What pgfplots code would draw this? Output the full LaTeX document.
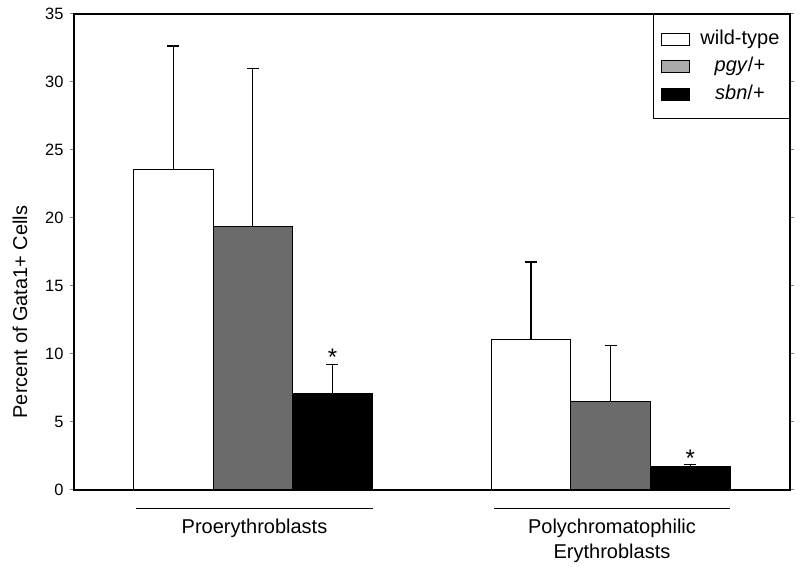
\documentclass[border=0pt]{standalone}
\usepackage{fontspec}
\setmainfont{Liberation Sans}
\usepackage{pgfplots}
\pgfplotsset{compat=1.18}
\definecolor{bargray}{HTML}{6B6B6B}
\definecolor{leggray}{HTML}{AAAAAA}
\begin{document}
\begin{tikzpicture}
\path[use as bounding box] (-37pt,-38.5pt) rectangle (363pt,245pt);
\begin{axis}[
  scale only axis, width=358pt, height=238pt,
  xmin=0, xmax=716, ymin=0, ymax=35,
  ytick={0,5,...,35},
  xtick={180.5,538},
  xticklabels={Proerythroblasts, {Polychromatophilic\\Erythroblasts}},
  xticklabel style={align=center, font=\fontsize{10}{12.5}\selectfont, yshift=-9pt},
  x tick style={draw=none},
  y tick style={gray, line width=0.5pt},
  tick align=outside, major tick length=1.75pt,
  yticklabel style={font=\fontsize{8.2}{9.8}\selectfont},
  /pgf/number format/assume math mode=true,
  ylabel={Percent of Gata1+ Cells},
  ylabel style={at={(axis description cs:-0.0754,0.374)}, anchor=center, font=\fontsize{10}{12}\selectfont},
  axis line style={line width=0.6pt},
  clip=false,
  ybar, bar width=79.5, bar shift=0pt,
  legend style={at={(1,1)}, anchor=north east, draw=black, line width=0.6pt,
    font=\fontsize{10}{12}\selectfont, inner ysep=6.6pt, inner xsep=4pt,
    row sep=2.45pt, column sep=4pt, cells={anchor=center},
    nodes={inner sep=1pt, text height=7.3pt, text depth=2pt}},
  legend cell align=center,
]
\addplot[forget plot, fill=white, draw=black, line width=0.5pt,
  error bars/.cd, y dir=plus, y explicit,
  error bar style={line width=0.6pt, black},
  error mark options={mark size=3pt, line width=0.6pt, black, rotate=90}]
  coordinates {(99.5,23.6) +- (0,9.05) (456.9,11.1) +- (0,5.66)};
\addplot[forget plot, fill=bargray, draw=black, line width=0.5pt,
  error bars/.cd, y dir=plus, y explicit,
  error bar style={line width=0.6pt, black},
  error mark options={mark size=3pt, line width=0.6pt, black, rotate=90}]
  coordinates {(178.8,19.4) +- (0,11.6) (536.5,6.54) +- (0,4.06)};
\addplot[forget plot, fill=black, draw=black, line width=0.5pt,
  error bars/.cd, y dir=plus, y explicit,
  error bar style={line width=0.6pt, black},
  error mark options={mark size=3pt, line width=0.6pt, black, rotate=90}]
  coordinates {(258.5,7.06) +- (0,2.14) (616.3,1.71) +- (0,0.18)};
\addlegendimage{legend image code/.code={\draw[fill=white,draw=black,line width=0.5pt] (0pt,-3pt) rectangle (14pt,3pt);}}
\addlegendentry{wild-type}
\addlegendimage{legend image code/.code={\draw[fill=leggray,draw=black,line width=0.5pt] (0pt,-3pt) rectangle (14pt,3pt);}}
\addlegendentry{\textit{pgy}/+}
\addlegendimage{legend image code/.code={\draw[fill=black,draw=black,line width=0.5pt] (0pt,-3pt) rectangle (14pt,3pt);}}
\addlegendentry{\textit{sbn}/+}
\draw[line width=0.5pt] (axis cs:62,-1.33) -- (axis cs:299,-1.33);
\draw[line width=0.5pt] (axis cs:420,-1.36) -- (axis cs:656,-1.36);
\node[anchor=base, font=\fontsize{12}{14}\selectfont] at (axis cs:258.5,9.12) {*};
\node[anchor=base, font=\fontsize{12}{14}\selectfont] at (axis cs:616.3,1.76) {*};
\end{axis}
\end{tikzpicture}
\end{document}
